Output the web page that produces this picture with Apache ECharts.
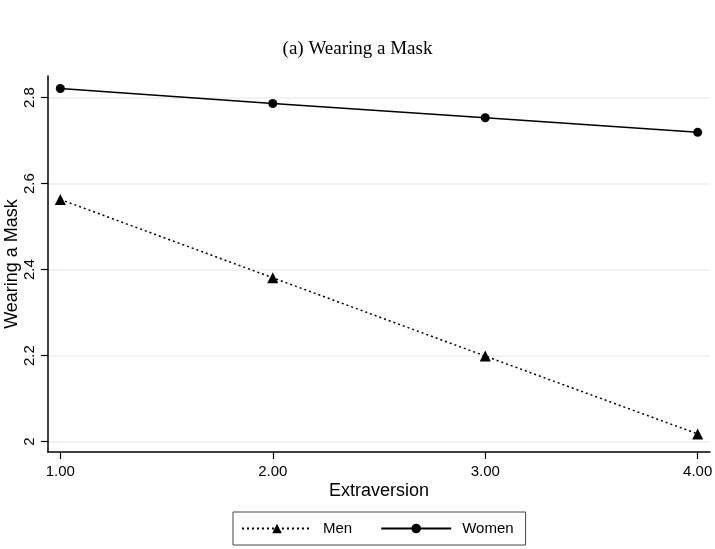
<!DOCTYPE html>
<html>
<head>
<meta charset="utf-8">
<script src="https://cdn.jsdelivr.net/npm/echarts@6/dist/echarts.min.js"></script>
<style>
html,body{margin:0;padding:0;background:#fff;}
#chart{width:715px;height:549px;}
</style>
</head>
<body>
<div id="chart"></div>
<script>
var xValues = [1, 2, 3, 4];
var menValues = [2.563, 2.381, 2.199, 2.018];
var womenValues = [2.821, 2.786, 2.753, 2.719];
var yTicks = [2, 2.2, 2.4, 2.6, 2.8];
var xTicks = [1, 2, 3, 4];

function pairs(xs, ys) { return xs.map(function (x, i) { return [x, ys[i]]; }); }

var chart = echarts.init(document.getElementById('chart'));
chart.setOption({
  backgroundColor: '#ffffff',
  animation: false,
  title: {
    text: '(a) Wearing a Mask',
    left: 'center',
    top: 35,
    textStyle: { fontFamily: 'Liberation Serif', fontWeight: 'normal', fontSize: 19, color: '#000' }
  },
  grid: { left: 48, right: 5, top: 76, bottom: 97, containLabel: false, outerBoundsMode: 'none' },
  xAxis: {
    type: 'value',
    min: 0.942, max: 4.058,
    name: 'Extraversion',
    nameLocation: 'middle',
    nameGap: 30,
    nameMoveOverlap: false,
    nameTextStyle: { fontFamily: 'Liberation Sans', fontSize: 18, color: '#000' },
    axisLine: { show: true, onZero: false, lineStyle: { color: '#000', width: 1.5 } },
    axisTick: { show: true, customValues: xTicks, length: 7, lineStyle: { color: '#000', width: 1.2 } },
    axisLabel: { customValues: xTicks, formatter: function (v) { return v.toFixed(2); }, margin: 12,
      fontFamily: 'Liberation Sans', fontSize: 15, color: '#000' },
    splitLine: { show: false }
  },
  yAxis: {
    type: 'value',
    min: 1.976, max: 2.85,
    name: 'Wearing a Mask',
    nameLocation: 'middle',
    nameGap: 27,
    nameMoveOverlap: false,
    nameTextStyle: { fontFamily: 'Liberation Sans', fontSize: 18, color: '#000' },
    axisLine: { show: true, onZero: false, lineStyle: { color: '#000', width: 1.5 } },
    axisTick: { show: true, customValues: yTicks, length: 7, lineStyle: { color: '#000', width: 1.2 } },
    axisLabel: { customValues: yTicks, rotate: 90, margin: 11,
      formatter: function (v) { return String(+v.toFixed(1)); },
      fontFamily: 'Liberation Sans', fontSize: 15, color: '#000' },
    splitLine: { show: true, lineStyle: { color: '#e9eff2', width: 1.5 } }
  },
  legend: {
    left: 233, top: 512,
    padding: [9, 12, 9, 8],
    borderColor: '#444', borderWidth: 1,
    itemWidth: 70, itemHeight: 12, itemGap: 28,
    textStyle: { fontFamily: 'Liberation Sans', fontSize: 15, color: '#000', padding: [0, 0, 0, 6] },
    data: ['Men', 'Women']
  },
  series: [
    {
      name: 'Men', type: 'line',
      data: pairs(xValues, menValues),
      symbol: 'triangle', symbolSize: 11,
      itemStyle: { color: '#000' },
      lineStyle: { color: '#000', width: 1.5, type: [2, 3] }
    },
    {
      name: 'Women', type: 'line',
      data: pairs(xValues, womenValues),
      symbol: 'circle', symbolSize: 9,
      itemStyle: { color: '#000' },
      lineStyle: { color: '#000', width: 1.5, type: 'solid' }
    }
  ]
});
</script>
</body>
</html>
